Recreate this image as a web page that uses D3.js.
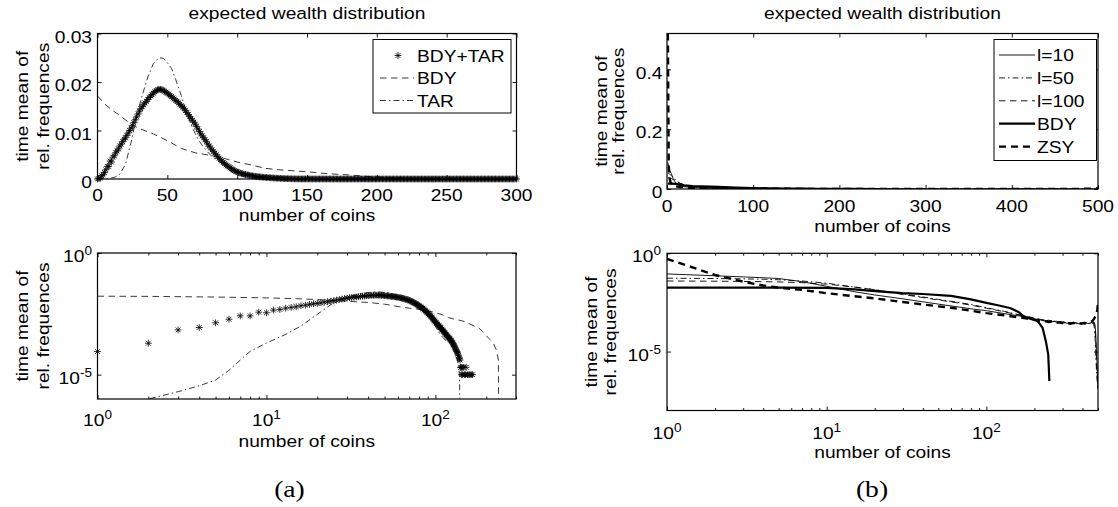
<!DOCTYPE html>
<html><head><meta charset="utf-8">
<script src="https://cdn.jsdelivr.net/npm/d3@7"></script>
<style>
html,body{margin:0;padding:0;background:#fff;}
svg{display:block;}
</style>
</head><body>
<svg id="c" width="1118" height="507"></svg>
<script>
// ================= DATA =================
// ---- panel (a) ----
const coinsA = d3.range(0, 301);            // number of coins 0..300
const bdyTarVals = [                        // BDY+TAR (stars), one value per coin
0,
8.9e-5,1.96e-4,6.9e-4,8.7e-4,1.35e-3,1.9e-3,2.6e-3,2.6e-3,3.7e-3,3.5e-3,
4.5e-3,4.8e-3,5.4e-3,5.8e-3,6.2e-3,6.8e-3,7.2e-3,7.7e-3,8.2e-3,8.5e-3,
9.0e-3,9.5e-3,1.00e-2,1.05e-2,1.10e-2,1.16e-2,1.22e-2,1.28e-2,1.34e-2,1.40e-2,
1.45e-2,1.49e-2,1.53e-2,1.57e-2,1.60e-2,1.64e-2,1.68e-2,1.71e-2,1.74e-2,1.77e-2,
1.80e-2,1.82e-2,1.84e-2,1.85e-2,1.85e-2,1.84e-2,1.83e-2,1.81e-2,1.79e-2,1.77e-2,
1.75e-2,1.72e-2,1.70e-2,1.67e-2,1.65e-2,1.62e-2,1.60e-2,1.57e-2,1.54e-2,1.51e-2,
1.48e-2,1.45e-2,1.41e-2,1.37e-2,1.33e-2,1.29e-2,1.25e-2,1.21e-2,1.17e-2,1.13e-2,
1.08e-2,1.03e-2,9.8e-3,9.3e-3,8.9e-3,8.5e-3,8.1e-3,7.7e-3,7.2e-3,6.8e-3,
6.4e-3,6.0e-3,5.7e-3,5.3e-3,5.0e-3,4.6e-3,4.3e-3,4.0e-3,3.7e-3,3.4e-3,
3.2e-3,2.9e-3,2.7e-3,2.5e-3,2.3e-3,2.1e-3,1.9e-3,1.75e-3,1.6e-3,1.45e-3,
1.35e-3,1.25e-3,1.15e-3,1.07e-3,1.0e-3,9.3e-4,8.6e-4,8.0e-4,7.4e-4,6.9e-4,
6.4e-4,5.9e-4,5.5e-4,5.1e-4,4.7e-4,4.4e-4,4.1e-4,3.8e-4,3.5e-4,3.3e-4,
3.1e-4,2.9e-4,2.7e-4,2.5e-4,2.3e-4,2.1e-4,1.9e-4,1.7e-4,1.55e-4,1.4e-4,
1.25e-4,1.1e-4,1.0e-4,9e-5,8e-5,7e-5,6e-5,5e-5,4.5e-5,4e-5,
2e-5,2e-5,1e-5,2e-5,1e-5,0,2e-5,0,1e-5,0,
1e-5,2e-5,0,0,1e-5,0,0,1e-5,0,1e-5,
0,0,1e-5,0,0,1e-5,0,0,0,0,
0,0,0,0,0,0,0,0,0,0, 0,0,0,0,0,0,0,0,0,0, 0,0,0,0,0,0,0,0,0,0,
0,0,0,0,0,0,0,0,0,0, 0,0,0,0,0,0,0,0,0,0, 0,0,0,0,0,0,0,0,0,0,
0,0,0,0,0,0,0,0,0,0, 0,0,0,0,0,0,0,0,0,0, 0,0,0,0,0,0,0,0,0,0,
0,0,0,0,0,0,0,0,0,0, 0,0,0,0,0,0,0,0,0,0, 0,0,0,0,0,0,0,0,0,0,
0,0,0,0,0,0,0,0,0,0
];
const bdyACoins = [0,1,2,5,10,15,20,25,30,40,50,60,70,80,90,100,110,120,130,140,150,160,170,180,190,200,210,220,230,236,237];
const bdyAVals  = [0.0171,0.0168,0.0165,0.0155,0.0143,0.0133,0.0122,0.0111,0.0104,0.0093,0.0079,0.0063,0.0054,0.0049,0.0043,0.0035,0.0029,0.0022,0.0019,0.0017,0.0015,0.0012,0.0010,0.00085,0.0006,0.0004,0.00028,0.0002,0.0001,0.00004,0.00000001];
const tarCoins = [0,1,2,3,4,5,6,7,8,10,13,16,20,24,28,32,36,40,44,47,50,53,56,60,64,68,72,76,80,84,88,92,96,100,105,110,115,120,125,130,134,137,139,140,150,300];
const tarVals  = [0,3e-7,1.0e-6,2.0e-6,3.5e-6,6e-6,1.5e-5,4e-5,9e-5,2.0e-4,4.5e-4,1.0e-3,3.0e-3,7.5e-3,0.013,0.0172,0.0210,0.0238,0.0250,0.0249,0.0240,0.0228,0.0205,0.0172,0.0135,0.0105,0.0082,0.0065,0.0052,0.0042,0.0034,0.0024,0.0015,0.0010,5.5e-4,3.5e-4,2.6e-4,2.2e-4,1.6e-4,9e-5,5e-5,2.5e-5,8e-6,1e-8,0,0];

// ---- panel (b) ----
const coinsB = [1,2,3,4,5,7,10,15,20,30, 40,50,60,80,100,130,160,180,200,215, 230,245,260,275,290,305,320,335,350,365, 380,395,410,425,440,455,465,470,475,480, 485,490,495,500];
const l10Vals  = [0.089,0.072,0.063,0.057,0.052,0.036,0.021,0.011,0.0076,0.0048, 0.0034,0.0026,0.0021,0.0015,0.0012,8.5e-4,6.5e-4,5.6e-4,4.5e-4,4.2e-4, 3.6e-4,3.9e-4,3.3e-4,3.5e-4,2.9e-4,3.2e-4,2.7e-4,3.0e-4,2.6e-4,2.9e-4, 2.6e-4,2.9e-4,2.5e-4,2.8e-4,2.6e-4,3.0e-4,2.8e-4,3.1e-4,3.0e-4,2.0e-4, 6e-5,8e-6,1e-6,1.3e-7];
const l50Vals  = [0.054,0.052,0.050,0.048,0.045,0.039,0.030,0.019,0.014,0.0085, 0.0060,0.0045,0.0036,0.0025,0.0017,1.1e-3,7.5e-4,6.2e-4,5.0e-4,4.4e-4, 4.0e-4,3.5e-4,3.7e-4,3.1e-4,3.3e-4,2.8e-4,3.1e-4,2.7e-4,3.0e-4,2.6e-4, 2.9e-4,2.6e-4,2.8e-4,2.5e-4,2.8e-4,2.7e-4,3.0e-4,2.6e-4,1.5e-4,4e-5, 5e-6,8e-7,3e-7,1.3e-7];
const l100Vals = [0.039,0.038,0.037,0.036,0.035,0.032,0.027,0.019,0.014,0.0080, 0.0056,0.0042,0.0034,0.0023,0.0016,1.05e-3,7.2e-4,6.0e-4,4.8e-4,4.5e-4, 3.8e-4,4.0e-4,3.4e-4,3.6e-4,3.0e-4,3.2e-4,2.8e-4,3.0e-4,2.7e-4,2.9e-4, 2.5e-4,2.8e-4,2.6e-4,2.9e-4,2.6e-4,2.9e-4,2.8e-4,2.8e-4,2.2e-4,1e-4, 2e-5,2e-6,4e-7,1.3e-7];
const zsyVals  = [0.52,0.079,0.036,0.023,0.018,0.0137,0.0093,0.0065,0.0051,0.0033, 0.0025,0.0020,0.0017,0.0012,9e-4,7e-4,5.5e-4,4.8e-4,4.2e-4,3.7e-4, 3.6e-4,3.2e-4,3.4e-4,2.9e-4,3.1e-4,2.7e-4,2.9e-4,2.6e-4,2.9e-4,2.5e-4, 2.8e-4,2.6e-4,2.9e-4,2.7e-4,3.1e-4,3.3e-4,3.8e-4,4.4e-4,5e-4,6e-4, 7.5e-4,9e-4,1.3e-3,3.0e-3];
const bdyBCoins = [1,2,5,10,15,20,30,40,60,80,100,120,142,160,172,190,209,225,236,244,248];
const bdyBVals  = [0.018,0.018,0.0178,0.0172,0.0145,0.012,0.0095,0.0085,0.0068,0.0045,0.0030,0.0022,0.0016,0.0010,0.0006,0.00045,0.00036,0.00016,0.000032,0.000007,0.00000032];

// ---- ticks / labels ----
const xTicksAT = [0,50,100,150,200,250,300];
const yTicksAT = [0,0.01,0.02,0.03];
const yTickLabelsAT = ["0","0.01","0.02","0.03"];
const xTicksBT = [0,100,200,300,400,500];
const yTicksBT = [0,0.2,0.4];
const yTickLabelsBT = ["0","0.2","0.4"];
const logXMajorA = [1,10,100];
const logXMajorB = [1,10,100];
const logXMinorA = [2,3,4,5,6,7,8,9,20,30,40,50,60,70,80,90,200,300];
const logXMinorB = [2,3,4,5,6,7,8,9,20,30,40,50,60,70,80,90,200,300,400,500];
const logYMajor = [1e-5,1];
const legendA = ["BDY+TAR","BDY","TAR"];
const legendB = ["l=10","l=50","l=100","BDY","ZSY"];
const titleText = "expected wealth distribution";
const xLabelText = "number of coins";
const yLabelLines = ["time mean of","rel. frequences"];

// ================= DRAWING =================
const FONT = '"Liberation Sans", Arial, Helvetica, sans-serif';
const SERIF = '"Liberation Serif", "DejaVu Serif", serif';
const FS = 17, SX = 1.13;
const svg = d3.select('#c');
svg.append('rect').attr('width',1118).attr('height',507).attr('fill','#fff');

function label(g, x, y, str, o={}) {
  const anchor = o.anchor || 'middle', size = o.size || FS, sx = o.sx || SX;
  const tr = `translate(${x},${y})` + (o.rotate ? ` rotate(${o.rotate})` : '') + ` scale(${sx},1)`;
  return g.append('text').attr('transform', tr).attr('text-anchor', anchor)
    .style('font-family', o.family || FONT).style('font-size', size + 'px').attr('fill', '#000').text(str);
}
function powLabel(g, x, y, exp, anchor) {
  const t = g.append('text').attr('transform', `translate(${x},${y}) scale(${SX},1)`)
    .attr('text-anchor', anchor).style('font-family', FONT).style('font-size', FS + 'px').attr('fill','#000');
  t.append('tspan').text('10');
  t.append('tspan').attr('dy', -7).style('font-size', '12px').text(exp);
  return t;
}
function axesTicks(g, x, y, box, xt, yt, xminor) {
  const style = s => { s.select('.domain').remove(); s.selectAll('.tick line').attr('stroke','#000').attr('stroke-width',0.9); s.selectAll('.tick text').remove(); };
  g.append('g').attr('transform',`translate(0,${box.b})`).call(d3.axisBottom(x).tickValues(xt).tickSize(-4).tickFormat('')).call(style);
  g.append('g').attr('transform',`translate(0,${box.t})`).call(d3.axisTop(x).tickValues(xt).tickSize(-4).tickFormat('')).call(style);
  g.append('g').attr('transform',`translate(${box.l},0)`).call(d3.axisLeft(y).tickValues(yt).tickSize(-4).tickFormat('')).call(style);
  g.append('g').attr('transform',`translate(${box.r},0)`).call(d3.axisRight(y).tickValues(yt).tickSize(-4).tickFormat('')).call(style);
  if (xminor) {
    g.append('g').attr('transform',`translate(0,${box.b})`).call(d3.axisBottom(x).tickValues(xminor).tickSize(-2.5).tickFormat('')).call(style);
    g.append('g').attr('transform',`translate(0,${box.t})`).call(d3.axisTop(x).tickValues(xminor).tickSize(-2.5).tickFormat('')).call(style);
  }
  g.append('rect').attr('x',box.l).attr('y',box.t).attr('width',box.r-box.l).attr('height',box.b-box.t)
    .attr('fill','none').attr('stroke','#000').attr('stroke-width',1.2);
}
let clipN = 0;
function clip(g, box) {
  const id = 'clip' + (clipN++);
  svg.append('clipPath').attr('id', id).append('rect')
    .attr('x', box.l).attr('y', box.t).attr('width', box.r - box.l).attr('height', box.b - box.t);
  return g.append('g').attr('clip-path', `url(#${id})`);
}
function drawLine(g, x, y, xs, ys, style, isLog) {
  const pts = xs.map((c,i)=>[c, ys[i]]);
  const line = d3.line().defined(d => !isLog || (d[0] > 0 && d[1] > 0)).x(d => x(d[0])).y(d => y(d[1]));
  return g.append('path').datum(pts).attr('d', line).attr('fill','none')
    .attr('stroke', style.color || '#000').attr('stroke-width', style.w || 0.9)
    .attr('stroke-dasharray', style.dash || null).attr('stroke-linejoin','round');
}
const starPath = "M-3.4,0H3.4M0,-3.4V3.4M-2.4,-2.4L2.4,2.4M-2.4,2.4L2.4,-2.4";
function stars(g, x, y, xs, ys, isLog) {
  const pts = xs.map((c,i)=>[c, ys[i]]).filter(d => !isLog || (d[0] > 0 && d[1] > 0));
  g.append('g').selectAll('path').data(pts).join('path')
    .attr('d', starPath).attr('transform', d => `translate(${x(d[0])},${y(d[1])})`)
    .attr('fill','none').attr('stroke','#000').attr('stroke-width',0.8);
}
function yLabel(g, box, xs) {
  const cy = (box.t + box.b) / 2;
  label(g, xs[0], cy, yLabelLines[0], {rotate:-90});
  label(g, xs[1], cy, yLabelLines[1], {rotate:-90});
}

const DASH = "6.5,4.5", DASHDOT = "6,3,1.5,3", TDASH = "7,5";
const sBDYa = {w:0.9, dash:DASH, color:'#222'}, sTARa = {w:0.9, dash:DASHDOT, color:'#222'};
const sL10 = {w:0.9}, sL50 = {w:0.9, dash:DASHDOT}, sL100 = {w:0.9, dash:DASH};
const sBDYb = {w:2.2}, sZSY = {w:2.4, dash:TDASH};

// ---------- Panel (a) top ----------
{
  const box = {l:97.5, r:516.5, t:33.5, b:179};
  const g = svg.append('g');
  const x = d3.scaleLinear([0,300],[box.l,box.r]);
  const y = d3.scaleLinear([0,0.03],[box.b,box.t]);
  const cg = clip(g, box);
  drawLine(cg, x, y, bdyACoins, bdyAVals, sBDYa, false);
  drawLine(cg, x, y, tarCoins, tarVals, sTARa, false);
  stars(g, x, y, coinsA, bdyTarVals, false);
  axesTicks(g, x, y, box, xTicksAT, yTicksAT);
  xTicksAT.forEach(v => label(g, x(v), 201, String(v)));
  yTicksAT.forEach((v,i) => label(g, box.l - 5.5, y(v) + 9.3, yTickLabelsAT[i], {anchor:'end'}));
  label(g, (box.l+box.r)/2, 221, xLabelText);
  label(g, (box.l+box.r)/2, 19, titleText);
  yLabel(g, box, [28, 48.5]);
  // legend
  const lg = g.append('g');
  lg.append('rect').attr('x',373).attr('y',39.5).attr('width',138).attr('height',73.5)
    .attr('fill','#fff').attr('stroke','#000').attr('stroke-width',1);
  const rows = [55.5, 78, 100.5];
  lg.append('path').attr('d', starPath).attr('transform',`translate(398,${rows[0]})`)
    .attr('fill','none').attr('stroke','#000').attr('stroke-width',0.8);
  [[sBDYa,1],[sTARa,2]].forEach(([s,i]) => {
    lg.append('line').attr('x1',380).attr('x2',414).attr('y1',rows[i]).attr('y2',rows[i])
      .attr('stroke',s.color).attr('stroke-width',s.w).attr('stroke-dasharray',s.dash);
  });
  legendA.forEach((t,i) => label(lg, 417, rows[i] + 6.2, t, {anchor:'start'}));
}

// ---------- Panel (a) bottom ----------
{
  const box = {l:97.5, r:516, t:253, b:399};
  const g = svg.append('g');
  const x = d3.scaleLog([1,300],[box.l,box.r]);
  const y = d3.scaleLog([1e-6,1],[box.b,box.t]);
  const cg = clip(g, box);
  drawLine(cg, x, y, bdyACoins, bdyAVals, sBDYa, true);
  drawLine(cg, x, y, tarCoins, tarVals, sTARa, true);
  stars(g, x, y, coinsA, bdyTarVals, true);
  axesTicks(g, x, y, box, logXMajorA, logYMajor, logXMinorA);
  logXMajorA.forEach(v => powLabel(g, x(v), 426, String(Math.round(Math.log10(v))), 'middle'));
  logYMajor.forEach(v => powLabel(g, box.l - 5.5, y(v) + 9, String(Math.round(Math.log10(v))), 'end'));
  label(g, (box.l+box.r)/2, 446.5, xLabelText);
  yLabel(g, box, [28, 48.5]);
  label(g, 289.5, 497, "(a)", {family:SERIF, size:23, sx:1.2});
}

// ---------- Panel (b) top ----------
{
  const box = {l:667, r:1098, t:33.5, b:189};
  const g = svg.append('g');
  const x = d3.scaleLinear([0,500],[box.l,box.r]);
  const y = d3.scaleLinear([0,0.52],[box.b,box.t]);
  const cg = clip(g, box);
  drawLine(cg, x, y, coinsB, l10Vals, sL10, false);
  drawLine(cg, x, y, coinsB, l50Vals, sL50, false);
  drawLine(cg, x, y, coinsB, l100Vals, sL100, false);
  drawLine(cg, x, y, bdyBCoins, bdyBVals, sBDYb, false);
  drawLine(cg, x, y, coinsB, zsyVals, sZSY, false);
  axesTicks(g, x, y, box, xTicksBT, yTicksBT);
  xTicksBT.forEach(v => label(g, x(v), 211.7, String(v)));
  yTicksBT.forEach((v,i) => label(g, box.l - 4.5, y(v) + 9.3, yTickLabelsBT[i], {anchor:'end'}));
  label(g, (box.l+box.r)/2, 231.7, xLabelText);
  label(g, (box.l+box.r)/2, 19, titleText);
  yLabel(g, box, [606.5, 624]);
  // legend
  const lg = g.append('g');
  lg.append('rect').attr('x',994).attr('y',39.5).attr('width',102.5).attr('height',121)
    .attr('fill','#fff').attr('stroke','#000').attr('stroke-width',1);
  const rows = [55, 77.9, 100.8, 123.7, 146.6];
  [sL10, sL50, sL100, sBDYb, sZSY].forEach((s,i) => {
    lg.append('line').attr('x1',999).attr('x2',1035).attr('y1',rows[i]).attr('y2',rows[i])
      .attr('stroke','#000').attr('stroke-width',s.w).attr('stroke-dasharray',s.dash || null);
  });
  legendB.forEach((t,i) => label(lg, 1037, rows[i] + 6.2, t, {anchor:'start'}));
}

// ---------- Panel (b) bottom ----------
{
  const box = {l:667, r:1098, t:253.3, b:410.5};
  const g = svg.append('g');
  const x = d3.scaleLog([1,500],[box.l,box.r]);
  const y = d3.scaleLog([1e-8,1],[box.b,box.t]);
  const cg = clip(g, box);
  drawLine(cg, x, y, coinsB, l10Vals, sL10, true);
  drawLine(cg, x, y, coinsB, l50Vals, sL50, true);
  drawLine(cg, x, y, coinsB, l100Vals, sL100, true);
  drawLine(cg, x, y, bdyBCoins, bdyBVals, sBDYb, true);
  drawLine(cg, x, y, coinsB, zsyVals, sZSY, true);
  axesTicks(g, x, y, box, logXMajorB, logYMajor, logXMinorB);
  logXMajorB.forEach(v => powLabel(g, x(v), 439, String(Math.round(Math.log10(v))), 'middle'));
  logYMajor.forEach(v => powLabel(g, box.l - 6, y(v) + 9, String(Math.round(Math.log10(v))), 'end'));
  label(g, (box.l+box.r)/2, 458, xLabelText);
  yLabel(g, box, [597, 616]);
  label(g, 872, 497, "(b)", {family:SERIF, size:23, sx:1.2});
}
</script>
</body></html>
